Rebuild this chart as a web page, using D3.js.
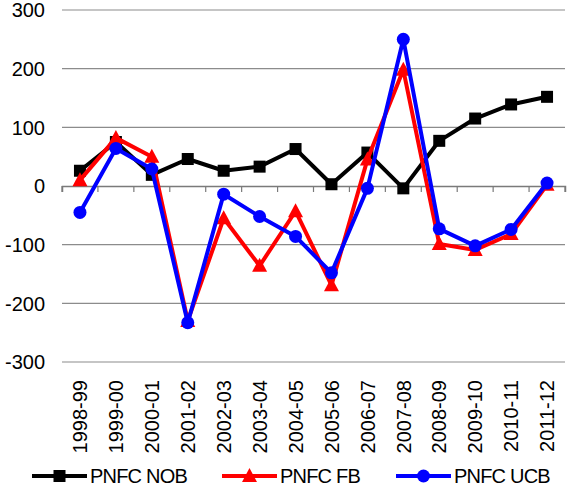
<!DOCTYPE html>
<html>
<head>
<meta charset="utf-8">
<script src="https://cdn.jsdelivr.net/npm/d3@7"></script>
<style>
  body { margin: 0; background: #fff; }
  svg { display: block; font-family: "Liberation Sans", Arial, sans-serif; }
</style>
</head>
<body>
<div id="chart"></div>
<script>
// categories (fiscal years)
const years = ["1998-99", "1999-00", "2000-01", "2001-02", "2002-03", "2003-04", "2004-05",
    "2005-06", "2006-07", "2007-08", "2008-09", "2009-10", "2010-11", "2011-12"];

// series values
const nobValues = [26, 75, 19, 46, 26, 33, 63, 3, 57, -4, 77, 115, 139, 152];
const fbValues = [10, 82, 50, -230, -55, -136, -43, -169, 45, 198, -99, -109, -82, 2];
const ucbValues = [-45, 64, 29, -233, -14, -52, -86, -148, -4, 250, -73, -102, -74, 5];

const yTicks = [-300, -200, -100, 0, 100, 200, 300];

const series = [
    {name: "PNFC NOB", values: nobValues, color: "#000000", marker: "square", legendX: 32},
    {name: "PNFC FB", values: fbValues, color: "#ff0000", marker: "triangle", legendX: 222},
    {name: "PNFC UCB", values: ucbValues, color: "#0000ff", marker: "circle", legendX: 396}
];

const width = 570, height = 489;
const margin = {top: 10, right: 5, bottom: 127, left: 62};

const svg = d3.select("#chart").append("svg")
    .attr("width", width)
    .attr("height", height);

const x = d3.scaleBand()
    .domain(years)
    .range([margin.left, width - margin.right])
    .padding(0);

const y = d3.scaleLinear()
    .domain([-300, 300])
    .range([height - margin.bottom, margin.top]);

const cx = d => x(d) + x.bandwidth() / 2;

// gridlines
svg.append("g")
    .selectAll("line")
    .data(yTicks.filter(t => t !== 0))
    .join("line")
    .attr("x1", margin.left)
    .attr("x2", width - margin.right)
    .attr("y1", d => y(d))
    .attr("y2", d => y(d))
    .attr("stroke", "#8c8c8c")
    .attr("stroke-width", 1.2);

// y tick labels
svg.append("g")
    .selectAll("text")
    .data(yTicks)
    .join("text")
    .attr("x", 45)
    .attr("y", d => y(d))
    .attr("dy", "0.36em")
    .attr("text-anchor", "end")
    .attr("font-size", 20)
    .attr("fill", "#000")
    .text(d => d);

// category axis at zero
const xAxis = d3.axisBottom(x)
    .tickValues(years.slice(1))
    .tickSize(6)
    .tickFormat("");

const gx = svg.append("g")
    .attr("transform", `translate(0,${y(0)})`)
    .call(xAxis);
gx.select(".domain").attr("stroke", "#7a7a7a").attr("stroke-width", 1.5);
gx.selectAll(".tick line")
    .attr("transform", `translate(${-x.bandwidth() / 2},0)`)
    .attr("stroke", "#7a7a7a").attr("stroke-width", 1.2);
// outer ticks at both ends
[margin.left, width - margin.right].forEach(px => {
    gx.append("line")
        .attr("x1", px).attr("x2", px)
        .attr("y1", 0).attr("y2", 6)
        .attr("stroke", "#7a7a7a").attr("stroke-width", 1.2);
});

// rotated year labels
svg.append("g")
    .selectAll("text")
    .data(years)
    .join("text")
    .attr("transform", d => `translate(${cx(d)},380) rotate(-90)`)
    .attr("dy", "0.36em")
    .attr("text-anchor", "end")
    .attr("font-size", 20)
    .attr("fill", "#000")
    .text(d => d);

function drawMarker(g, type, color) {
    if (type === "square") {
        g.append("rect")
            .attr("x", -6).attr("y", -6)
            .attr("width", 12).attr("height", 12)
            .attr("fill", color);
    } else if (type === "triangle") {
        g.append("path")
            .attr("d", "M0,-8L7.5,6L-7.5,6Z")
            .attr("fill", color);
    } else {
        g.append("circle")
            .attr("r", 6.5)
            .attr("fill", color);
    }
}

const line = d3.line()
    .x((d, i) => cx(years[i]))
    .y(d => y(d));

series.forEach(s => {
    const g = svg.append("g");
    g.append("path")
        .datum(s.values)
        .attr("d", line)
        .attr("fill", "none")
        .attr("stroke", s.color)
        .attr("stroke-width", 4)
        .attr("stroke-linejoin", "round");
    g.selectAll("g.pt")
        .data(s.values)
        .join("g")
        .attr("class", "pt")
        .attr("transform", (d, i) => `translate(${cx(years[i])},${y(d)})`)
        .each(function() { drawMarker(d3.select(this), s.marker, s.color); });
});

// legend
const legendY = 476;
series.forEach(s => {
    const g = svg.append("g").attr("transform", `translate(${s.legendX},${legendY})`);
    g.append("line")
        .attr("x1", 0).attr("x2", 55)
        .attr("y1", 0).attr("y2", 0)
        .attr("stroke", s.color)
        .attr("stroke-width", 4);
    const m = g.append("g").attr("transform", "translate(27.5,0)");
    drawMarker(m, s.marker, s.color);
    g.append("text")
        .attr("x", 58)
        .attr("y", 0)
        .attr("dy", "0.36em")
        .attr("font-size", 20)
        .attr("letter-spacing", -0.8)
        .attr("fill", "#000")
        .text(s.name);
});
</script>
</body>
</html>
